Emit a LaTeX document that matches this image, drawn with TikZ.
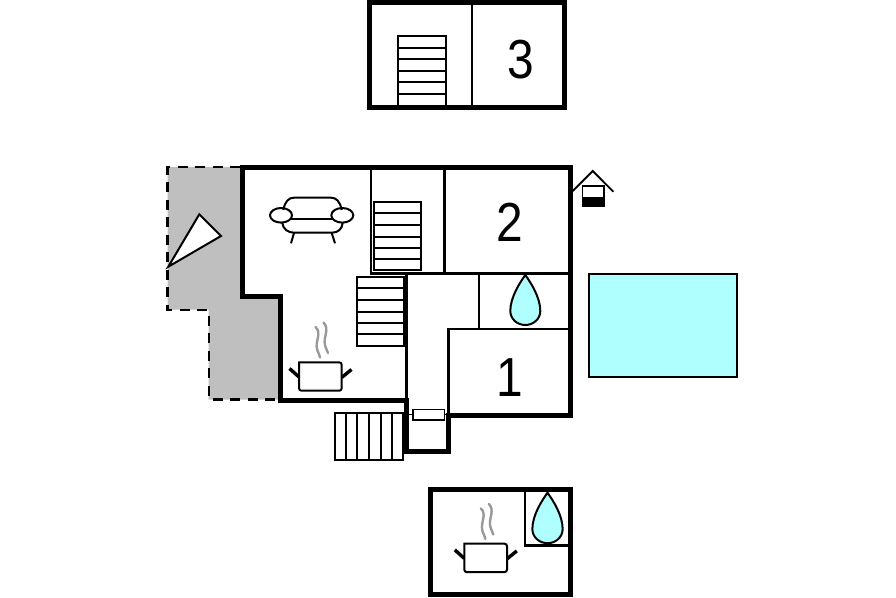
\documentclass[tikz,border=0pt]{standalone}
\usepackage{fontspec}
\setmainfont{Liberation Sans}
\definecolor{poolc}{HTML}{AFFFFF}
\definecolor{terr}{HTML}{BFBFBF}
\definecolor{steamc}{HTML}{999999}
\tikzset{
  wall/.style={line width=5pt,line join=miter,line cap=butt},
  thin wall/.style={line width=2.6pt},
  stairline/.style={line width=2pt},
  icon/.style={line width=2pt,line join=round},
  numlabel/.style={font=\fontsize{55}{55}\selectfont,inner sep=0pt,text=black},
}
\newcommand{\stairsH}[6]{% x1 x2 y1 y2 ; list of y (#5), unused #6
  \draw[stairline,fill=white] (#1,#3) rectangle (#2,#4);
  \foreach \yy in {#5} \draw[stairline] (#1,\yy) -- (#2,\yy);
}
\newcommand{\drop}[3]{% apex x, apex y, scale
  \draw[line width=2pt,fill=poolc,line join=miter,shift={(#1,#2)},yscale=#3,xscale=#3]
    (0,0) .. controls (-5,7) and (-15,22) .. (-15,36)
    .. controls (-15,44) and (-8,50) .. (0,50)
    .. controls (8,50) and (15,44) .. (15,36)
    .. controls (15,22) and (5,7) .. (0,0) -- cycle;
}
\newcommand{\pot}[2]{%
  \begin{scope}[shift={(#1,#2)}]
    \draw[line width=3.4pt] (289.5,368.5) -- (299,377);
    \draw[line width=3.4pt] (341.7,377.5) -- (351.5,369.5);
    \draw[line width=2pt,fill=white,rounded corners=2.5pt]
      (299,362.3) -- (299,390.7) -- (341.7,390.7) -- (341.7,362.3) [sharp corners] -- cycle;
    \draw[line width=2.4pt,steamc,line cap=round] (315.5,327) .. controls (322,333) and (315,341) .. (317,349) .. controls (318,353) and (320,355) .. (320,357.5);
    \draw[line width=2.4pt,steamc,line cap=round] (323.5,322.5) .. controls (330,329) and (323,337) .. (325,345) .. controls (326,349) and (327.5,351) .. (328,353);
  \end{scope}
}
\begin{document}
\begin{tikzpicture}[x=1pt,y=-1pt]
\useasboundingbox (0,0) rectangle (896,597);
% terrace
\fill[terr] (167.5,167) -- (242,167) -- (242,296.7) -- (280.8,296.7) -- (280.8,399.5) -- (208.7,399.5) -- (208.7,309.7) -- (167.5,309.7) -- cycle;
\draw[line width=2.4pt,dash pattern=on 10pt off 7.5pt] (240,167) -- (167.5,167) -- (167.5,309.7) -- (208.7,309.7) -- (208.7,399.5) -- (280,399.5);
\draw[line width=2pt,fill=white,line join=miter] (199.3,214.3) -- (221,236) -- (168.3,266.7) -- cycle;
% pool
\draw[line width=2pt,fill=poolc] (588.7,273.7) rectangle (737,377.3);
% interior thin walls
\draw[thin wall] (371,167) -- (371,273.7);
\draw[thin wall] (444.3,167) -- (444.3,273.7);
\draw[thin wall] (370,273.7) -- (570,273.7);
\draw[thin wall] (406.5,273.7) -- (406.5,400);
\draw[thin wall] (479,273.7) -- (479,329);
\draw[thin wall] (448.7,329) -- (570,329);
\draw[thin wall] (448.7,328) -- (448.7,415);
% stairs
\stairsH{374.3}{421}{201.7}{270.3}{213.3,225,236.7,248.3,259.3}{}
\stairsH{357}{403.7}{276.7}{345.7}{288.3,300,311.7,323.3,334.3}{}
% main walls
\draw[wall] (242,167.7) -- (570,167.7) -- (570,415) -- (448.7,415) -- (448.7,451.5) -- (406.3,451.5) -- (406.3,400) -- (280.8,400) -- (280.8,296.7) -- (242,296.7) -- cycle;
% entrance stairs
\draw[stairline,fill=white] (334.5,413.3) rectangle (403,460);
\foreach \xx in {346,357.3,369,381,392.3} \draw[stairline] (\xx,413.3) -- (\xx,460);
% door
\draw[line width=1.3pt] (408,414.7) -- (448,414.7);
\draw[line width=1.3pt,fill=white] (413,409.5) rectangle (444.3,420);
% house icon
\draw[line width=1.6pt,fill=white] (582.5,186) rectangle (604,206.5);
\fill[black] (582,196.7) rectangle (604.5,207);
\draw[line width=1.9pt,line join=miter] (572.7,191) -- (592.7,171) -- (613.3,191.7);
% sofa
\begin{scope}[icon]
  \draw (283.3,210) .. controls (285,201) and (289,197.7) .. (294,197.7) -- (331,197.7) .. controls (336,197.7) and (340,201) .. (341.7,210);
  \draw (290,219.3) -- (333,219.3);
  \draw (282.3,223) .. controls (283,229) and (288,232.7) .. (294,232.7) -- (332,232.7) .. controls (338,232.7) and (342,229) .. (342.7,223);
  \draw (294,233) -- (291,243.3);
  \draw (331.7,233) -- (335,243.3);
  \draw (281,215.3) ellipse [x radius=11,y radius=7.3];
  \draw (342.3,215.3) ellipse [x radius=11,y radius=7.3];
\end{scope}
% pots
\pot{0}{0}
\pot{165.3}{181.4}
% drops
\drop{525.3}{275}{1}
% lower room
\draw[thin wall] (525,489) -- (525,545.5) -- (570,545.5);
\drop{547.5}{492.7}{1.01}
\draw[wall] (430.5,489.7) rectangle (570,594);
% top room
\draw[thin wall] (472,2) -- (472,107);
\draw[stairline] (398.3,107) -- (398.3,36) -- (445.7,36) -- (445.7,107);
\foreach \yy in {47.7,58.7,70.7,81.7,94} \draw[stairline] (398.3,\yy) -- (445.7,\yy);
\draw[wall] (369.5,2.3) rectangle (564,107);
% numbers
\node[numlabel] (n2) at (510,222) {\scalebox{0.87}[1]{2}};
\node[numlabel] (n1) at (510,378) {\scalebox{0.87}[1]{1}};
\node[numlabel] (n3) at (520.5,60) {\scalebox{0.87}[1]{3}};
\end{tikzpicture}
\end{document}
